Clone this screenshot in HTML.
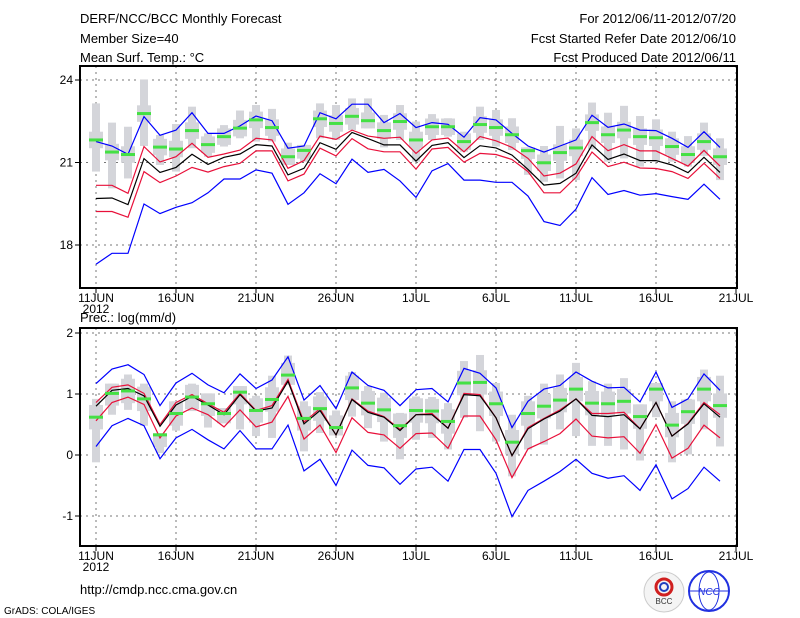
<!DOCTYPE html>
<html><head><meta charset="utf-8">
<style>
html,body{margin:0;padding:0;background:#fff;}
svg{display:block;font-family:"Liberation Sans",sans-serif;}
</style></head>
<body>
<svg id="chart" width="800" height="618" viewBox="0 0 800 618">
<g font-size="13" fill="#000">
<text x="80" y="23">DERF/NCC/BCC Monthly Forecast</text>
<text x="80" y="43">Member Size=40</text>
<text x="80" y="62">Mean Surf. Temp.: °C</text>
<text x="736" y="23" text-anchor="end">For 2012/06/11-2012/07/20</text>
<text x="736" y="43" text-anchor="end">Fcst Started Refer Date 2012/06/10</text>
<text x="736" y="62" text-anchor="end">Fcst Produced Date 2012/06/11</text>
</g>
<text x="80" y="322" font-size="13">Prec.: log(mm/d)</text>
<text x="80" y="594" font-size="13">http://cmdp.ncc.cma.gov.cn</text>
<text x="4" y="614" font-size="10">GrADS: COLA/IGES</text>
<g>
<circle cx="664" cy="592" r="20" fill="#f4f4f4" stroke="#ccc"/>
<circle cx="664" cy="587" r="8" fill="none" stroke="#d02020" stroke-width="3"/>
<circle cx="664" cy="587" r="4" fill="none" stroke="#2040c0" stroke-width="2"/>
<text x="664" y="604" font-size="8" text-anchor="middle" fill="#333">BCC</text>
</g>
<g>
<circle cx="709" cy="591" r="20" fill="#fff" stroke="#2030e0" stroke-width="2"/>
<ellipse cx="709" cy="591" rx="10" ry="19" fill="none" stroke="#2030e0"/>
<line x1="690" y1="591" x2="728" y2="591" stroke="#2030e0"/>
<text x="709" y="595" font-size="10" text-anchor="middle" fill="#2030e0" font-style="italic">NCC</text>
</g>
<g id="top"></g>
<g id="bot"></g>
</svg>
<script>
// Temperature (°C) data, 40 days from 11 Jun
const tMax=[21.76,21.60,21.30,22.67,21.99,22.18,22.81,22.06,22.06,22.33,22.69,22.52,21.52,21.60,22.81,22.59,23.12,23.12,22.45,22.78,22.27,22.45,22.39,21.92,22.63,22.55,22.06,21.60,21.38,21.60,21.82,22.72,22.28,22.40,22.18,22.16,21.88,21.55,22.12,21.55];
const tUpper=[20.17,20.17,19.88,21.58,21.02,21.21,21.70,21.19,21.31,21.45,21.88,21.82,20.79,21.07,21.96,21.84,22.18,21.96,21.88,21.92,21.33,21.82,21.89,21.39,21.94,21.79,21.55,21.15,20.51,20.61,20.95,21.94,21.43,21.65,21.42,21.42,21.15,20.87,21.44,20.87];
const tMean=[19.69,19.71,19.47,21.14,20.64,20.82,21.30,20.93,21.19,21.31,21.65,21.60,20.55,20.79,21.72,21.48,22.09,21.87,21.64,21.64,21.05,21.62,21.72,21.18,21.61,21.53,21.27,20.75,20.18,20.24,20.61,21.64,21.11,21.31,21.07,21.07,20.91,20.63,21.19,20.64];
const tLower=[19.22,19.22,19.01,20.67,20.27,20.51,20.82,20.65,20.85,20.97,21.42,21.42,20.33,20.58,21.52,21.24,21.87,21.50,21.39,21.39,20.76,21.49,21.55,21.01,21.33,21.29,21.11,20.67,19.90,19.90,20.46,21.38,20.85,21.01,20.80,20.78,20.67,20.42,20.97,20.42];
const tMin=[17.30,17.70,17.70,19.49,19.14,19.37,19.54,19.90,20.40,20.40,20.73,20.61,19.48,19.90,20.59,20.23,21.12,20.64,20.75,20.33,19.73,20.70,20.96,20.36,20.36,20.28,20.28,19.78,18.85,18.71,19.30,20.45,19.84,19.98,19.81,19.87,19.76,19.66,20.21,19.66];
const tObs=[21.82,21.38,21.29,22.78,21.56,21.49,22.16,21.65,21.94,22.25,22.55,22.27,21.21,21.44,22.59,22.42,22.68,22.52,22.16,22.49,21.82,22.30,22.30,21.76,22.38,22.27,22.01,21.43,20.99,21.36,21.53,22.45,22.01,22.18,21.94,21.90,21.58,21.29,21.76,21.21];
const tHi=[23.15,22.45,22.30,24.02,22.00,22.40,23.03,22.06,22.36,22.89,23.09,22.95,21.72,21.64,23.15,23.09,23.33,23.33,22.73,23.09,22.49,22.76,22.61,22.12,23.03,22.91,22.61,21.55,21.60,22.33,22.24,23.18,22.81,23.06,22.69,22.57,22.12,21.96,22.45,21.88];
const tLo=[20.67,20.06,20.42,21.60,20.91,20.67,21.52,21.21,21.58,21.88,21.76,21.76,20.91,21.03,21.88,21.82,22.18,22.24,21.55,21.82,21.03,21.82,21.94,21.39,21.82,21.58,21.45,20.55,20.30,20.42,20.36,21.48,21.03,21.15,20.85,21.03,21.03,20.85,21.24,20.36];
// Precipitation log(mm/d)
const pMax=[1.17,1.41,1.48,1.32,0.81,1.18,1.34,1.15,1.02,1.33,1.09,1.23,1.61,0.90,1.14,0.76,1.36,1.14,1.06,0.81,1.07,1.09,0.87,1.42,1.34,1.10,0.45,0.88,1.08,1.14,1.36,1.21,1.10,1.11,0.87,1.36,0.78,0.92,1.33,1.06];
const pUpper=[0.86,1.11,1.15,1.01,0.50,0.86,0.99,0.84,0.70,1.01,0.73,0.81,1.24,0.54,0.76,0.33,0.92,0.72,0.63,0.42,0.66,0.68,0.44,1.01,0.99,0.61,-0.01,0.45,0.60,0.74,0.92,0.68,0.68,0.70,0.43,0.86,0.31,0.52,0.86,0.66];
const pMean=[0.80,1.06,1.09,0.97,0.47,0.82,0.96,0.82,0.66,0.99,0.72,0.77,1.21,0.51,0.73,0.33,0.91,0.70,0.62,0.40,0.66,0.66,0.44,0.99,0.97,0.61,-0.01,0.43,0.59,0.72,0.92,0.65,0.63,0.66,0.43,0.86,0.31,0.51,0.84,0.62];
const pLower=[0.56,0.86,0.95,0.83,0.28,0.64,0.77,0.66,0.46,0.74,0.46,0.54,0.96,0.26,0.49,0.04,0.61,0.37,0.33,0.11,0.35,0.36,0.11,0.64,0.64,0.25,-0.37,0.10,0.22,0.35,0.59,0.31,0.28,0.30,0.03,0.50,-0.05,0.11,0.49,0.28];
const pMin=[0.14,0.48,0.60,0.48,-0.06,0.28,0.42,0.25,0.10,0.40,0.10,0.10,0.49,-0.26,-0.07,-0.50,0.08,-0.17,-0.21,-0.48,-0.23,-0.20,-0.43,0.09,0.09,-0.30,-1.01,-0.58,-0.43,-0.27,-0.07,-0.30,-0.38,-0.34,-0.58,-0.16,-0.72,-0.55,-0.20,-0.43];
const pObs=[0.62,1.01,1.05,0.92,0.33,0.68,0.95,0.84,0.68,1.03,0.73,0.91,1.31,0.60,0.76,0.45,1.10,0.85,0.74,0.48,0.73,0.72,0.55,1.18,1.19,0.84,0.21,0.68,0.80,0.90,1.08,0.85,0.84,0.88,0.63,1.08,0.49,0.71,1.08,0.81];
const pHi=[0.92,1.17,1.32,1.17,0.36,0.88,1.17,1.01,0.77,1.13,0.97,1.30,1.63,0.88,1.03,0.73,1.36,1.13,1.02,0.69,0.96,0.95,0.85,1.54,1.64,1.18,0.66,0.97,1.17,1.32,1.51,1.21,1.17,1.26,0.83,1.18,0.88,0.92,1.40,1.30];
const pLo=[-0.12,0.66,0.74,0.48,0.03,0.40,0.72,0.45,0.52,0.42,0.31,0.28,1.15,0.06,0.36,0.32,0.63,0.44,0.22,-0.07,0.25,0.28,0.09,0.61,0.39,0.22,-0.35,0.09,0.17,0.42,0.31,0.15,0.15,0.09,-0.09,0.62,-0.12,0.01,0.42,0.14];
const xLabels=["11JUN","16JUN","21JUN","26JUN","1JUL","6JUL","11JUL","16JUL","21JUL"];
const tTicks=[18,21,24];
const pTicks=[-1,0,1,2];

const NS="http://www.w3.org/2000/svg";
const X0=80,X1=737;
function xs(i){return 96+16*i;}
function mk(parent,tag,attrs){const e=document.createElementNS(NS,tag);for(const k in attrs)e.setAttribute(k,attrs[k]);parent.appendChild(e);return e;}

function panel(g,top,bottom,ys,ticks,fmt,series,obs,hi,lo,boxHalf,prefix){
  // gridlines
  for(let k=0;k<xLabels.length;k++){
    const x=96+80*k;
    const l=mk(g,'line',{x1:x,y1:top,x2:x,y2:bottom,stroke:'#777','stroke-dasharray':'2,4'});
    
    
    const t=mk(g,'line',{x1:x,y1:bottom,x2:x,y2:bottom+5,stroke:'#000'});
    
    
    const lb=mk(g,'text',{x:x,y:bottom+14,'font-size':12,'text-anchor':'middle'});
    lb.textContent=xLabels[k];
    
    
  }
  const yr=mk(g,'text',{x:96,y:bottom+25,'font-size':12,'text-anchor':'middle'});
  yr.textContent='2012';
  
  
  ticks.forEach(v=>{
    const y=ys(v);
    const l=mk(g,'line',{x1:X0,y1:y,x2:X1,y2:y,stroke:'#777','stroke-dasharray':'2,4'});
    
    
    const t=mk(g,'line',{x1:X0-5,y1:y,x2:X0,y2:y,stroke:'#000'});
    
    
    const lb=mk(g,'text',{x:X0-7,y:y+4,'font-size':12,'text-anchor':'end'});
    lb.textContent=fmt(v);
    
    
  });
  // boxes
  for(let i=0;i<obs.length;i++){
    const x=xs(i);
    const w=mk(g,'rect',{x:x-4,y:ys(hi[i]),width:8,height:Math.max(1,ys(lo[i])-ys(hi[i])),fill:'#d4d5da'});
    
    
    const bh=Math.min(hi[i],obs[i]+boxHalf),bl=Math.max(lo[i],obs[i]-boxHalf);
    const b=mk(g,'rect',{x:x-7,y:ys(bh),width:14,height:Math.max(1,ys(bl)-ys(bh)),fill:'#d4d5da'});
    
    
  }
  series.forEach(s=>{
    const p=s.data.map((v,i)=>xs(i)+','+ys(v).toFixed(1)).join(' ');
    const pl=mk(g,'polyline',{points:p,fill:'none',stroke:s.color,'stroke-width':1.2});
    
    
  });
  for(let i=0;i<obs.length;i++){
    const r=mk(g,'rect',{x:xs(i)-7,y:ys(obs[i])-1.5,width:14,height:3,fill:'#44e044'});
    
    
  }
  const f=mk(g,'rect',{x:X0,y:top,width:X1-X0,height:bottom-top,fill:'none',stroke:'#000','stroke-width':2});
  
  
}
const yT=v=>80+(24-v)*27.5;
const yP=v=>455+(0-v)*61;
panel(document.getElementById('top'),66,288,yT,tTicks,v=>String(v),
 [{name:'max-line',data:tMax,color:'#0000ff'},{name:'upper-line',data:tUpper,color:'#e8103a'},{name:'mean-line',data:tMean,color:'#000'},{name:'lower-line',data:tLower,color:'#e8103a'},{name:'min-line',data:tMin,color:'#0000ff'}],
 tObs,tHi,tLo,0.3,'temp');
panel(document.getElementById('bot'),328,546,yP,pTicks,v=>String(v),
 [{name:'max-line',data:pMax,color:'#0000ff'},{name:'upper-line',data:pUpper,color:'#e8103a'},{name:'lower-line',data:pLower,color:'#e8103a'},{name:'mean-line',data:pMean,color:'#000'},{name:'min-line',data:pMin,color:'#0000ff'}],
 pObs,pHi,pLo,0.2,'precip');
</script>
</body></html>
